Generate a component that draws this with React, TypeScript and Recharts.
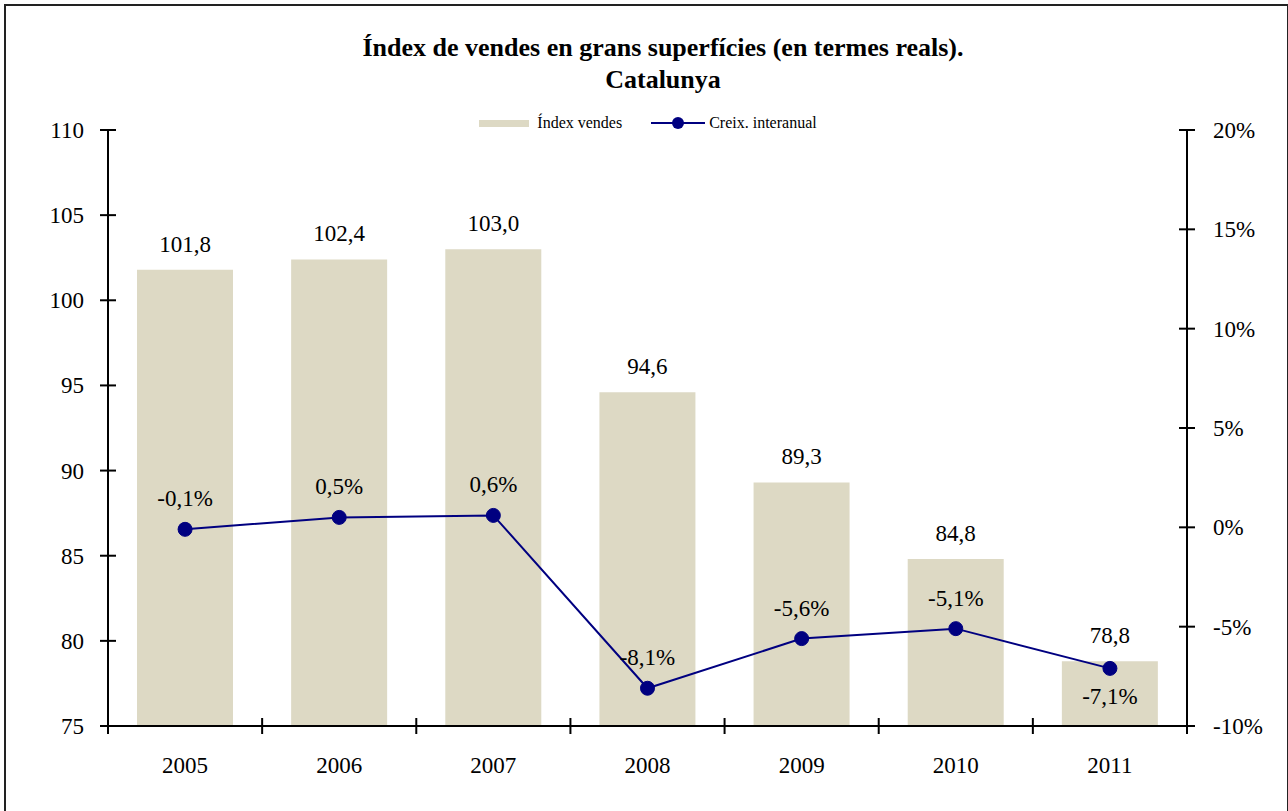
import { ComposedChart, Bar, Line, XAxis, YAxis, LabelList } from 'recharts'

const years = ['2005', '2006', '2007', '2008', '2009', '2010', '2011']
const indexValues = [101.8, 102.4, 103.0, 94.6, 89.3, 84.8, 78.8]
const growthValues = [-0.1, 0.5, 0.6, -8.1, -5.6, -5.1, -7.1]
const leftTicks = [75, 80, 85, 90, 95, 100, 105, 110]
const rightTicks = [-10, -5, 0, 5, 10, 15, 20]

const data = years.map((year, i) => ({
  year,
  index: indexValues[i],
  growth: growthValues[i]
}))

const FONT = "'Liberation Serif', Tinos, 'Times New Roman', 'DejaVu Serif', serif"
const BAR_COLOR = '#DDD9C4'
const LINE_COLOR = '#000080'
const W = 1288
const H = 811
const PLOT_LEFT = 108
const PLOT_RIGHT = 1187
const BAND = (PLOT_RIGHT - PLOT_LEFT) / years.length

const fmtNum = (v: number) => v.toFixed(1).replace('.', ',')

function XTick(props: any) {
  const { x, y, payload, index } = props
  const last = index === years.length - 1
  return (
    <g>
      <line x1={x - BAND / 2} x2={x - BAND / 2} y1={y - 8} y2={y + 8} stroke="#000" strokeWidth={2} />
      {last && <line x1={x + BAND / 2} x2={x + BAND / 2} y1={y - 8} y2={y + 8} stroke="#000" strokeWidth={2} />}
      <text x={x} y={y + 47} textAnchor="middle" fontSize={23} style={{ fontFamily: FONT }} fill="#000">
        {payload.value}
      </text>
    </g>
  )
}

function LeftTick(props: any) {
  const { x, y, payload } = props
  return (
    <g>
      <line x1={x - 8} x2={x + 8} y1={y} y2={y} stroke="#000" strokeWidth={2} />
      <text x={x - 24} y={y + 8} textAnchor="end" fontSize={23} style={{ fontFamily: FONT }} fill="#000">
        {payload.value}
      </text>
    </g>
  )
}

function RightTick(props: any) {
  const { x, y, payload } = props
  return (
    <g>
      <line x1={x - 8} x2={x + 8} y1={y} y2={y} stroke="#000" strokeWidth={2} />
      <text x={x + 26} y={y + 8} textAnchor="start" fontSize={23} style={{ fontFamily: FONT }} fill="#000">
        {payload.value + '%'}
      </text>
    </g>
  )
}

function GrowthLabel(props: any) {
  const { x, y, value, index } = props
  // last point has its label under the marker
  const ty = index === years.length - 1 ? y + 36 : y - 23
  return (
    <text x={x} y={ty} textAnchor="middle" fontSize={23} style={{ fontFamily: FONT }} fill="#000">
      {fmtNum(value) + '%'}
    </text>
  )
}

function LegendBox() {
  return (
    <div
      style={{
        position: 'absolute',
        left: 0,
        width: 1296,
        top: 113,
        display: 'flex',
        justifyContent: 'center',
        alignItems: 'center',
        fontFamily: FONT,
        fontSize: 16,
        lineHeight: '20px',
        color: '#000'
      }}
    >
      <span style={{ display: 'inline-block', width: 50, height: 7, background: BAR_COLOR, marginRight: 8 }} />
      <span style={{ marginRight: 29 }}>Índex vendes</span>
      <svg width={54} height={16} style={{ marginRight: 4 }}>
        <line x1={0} x2={54} y1={8} y2={8} stroke={LINE_COLOR} strokeWidth={2} />
        <circle cx={27} cy={8} r={6} fill={LINE_COLOR} />
      </svg>
      <span>Creix. interanual</span>
    </div>
  )
}

export default function App() {
  return (
    <div style={{ position: 'absolute', left: 0, top: 0, width: W, height: H, overflow: 'hidden', background: '#fff' }}>
      <div
        style={{
          position: 'absolute',
          left: 4,
          top: 4,
          width: 1285,
          height: 830,
          border: '2px solid #222',
          boxSizing: 'border-box'
        }}
      />
      <div
        style={{
          position: 'absolute',
          left: 63,
          width: 1200,
          top: 32,
          textAlign: 'center',
          fontFamily: FONT,
          fontWeight: 'bold',
          fontSize: 26,
          lineHeight: '32px',
          color: '#000'
        }}
      >
        Índex de vendes en grans superfícies (en termes reals).
        <br />
        Catalunya
      </div>
      <LegendBox />
      <div style={{ position: 'absolute', left: 0, top: 0 }}>
        <ComposedChart width={W} height={H} data={data} margin={{ top: 130, right: 0, bottom: 45, left: 0 }}>
          <XAxis
            dataKey="year"
            height={40}
            tickSize={0}
            tickMargin={0}
            tickLine={false}
            axisLine={{ stroke: '#000', strokeWidth: 2 }}
            tick={<XTick />}
            interval={0}
          />
          <YAxis
            yAxisId="left"
            orientation="left"
            width={PLOT_LEFT}
            domain={[75, 110]}
            ticks={leftTicks}
            allowDataOverflow
            tickSize={0}
            tickMargin={0}
            tickLine={false}
            axisLine={{ stroke: '#000', strokeWidth: 2 }}
            tick={<LeftTick />}
            interval={0}
          />
          <YAxis
            yAxisId="right"
            orientation="right"
            width={W - PLOT_RIGHT}
            domain={[-10, 20]}
            ticks={rightTicks}
            allowDataOverflow
            tickSize={0}
            tickMargin={0}
            tickLine={false}
            axisLine={{ stroke: '#000', strokeWidth: 2 }}
            tick={<RightTick />}
            interval={0}
          />
          <Bar yAxisId="left" dataKey="index" fill={BAR_COLOR} barSize={96} isAnimationActive={false}>
            <LabelList
              dataKey="index"
              position="top"
              offset={18}
              formatter={(v: any) => fmtNum(Number(v))}
              style={{ fontSize: 23, fontFamily: FONT, fill: '#000' }}
            />
          </Bar>
          <Line
            yAxisId="right"
            dataKey="growth"
            stroke={LINE_COLOR}
            strokeWidth={2}
            dot={{ r: 7, fill: LINE_COLOR, stroke: LINE_COLOR, strokeWidth: 1 }}
            isAnimationActive={false}
          >
            <LabelList dataKey="growth" content={<GrowthLabel />} />
          </Line>
        </ComposedChart>
      </div>
    </div>
  )
}
